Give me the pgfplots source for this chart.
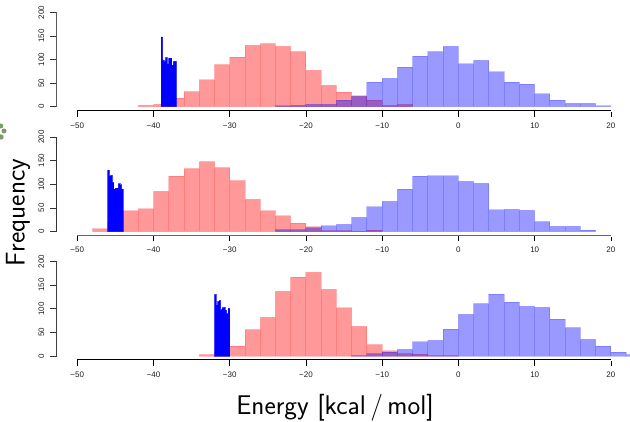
\documentclass[border=0pt]{standalone}
\usepackage{pgfplots}
\pgfplotsset{compat=1.18}
\usepackage{fontspec}
\setmainfont{Liberation Sans}
\definecolor{ticktxt}{gray}{0.12}
\definecolor{blob}{RGB}{125,155,105}
\pgfplotsset{
  panel/.style={
    anchor=south west,
    scale only axis,
    width=573.3pt,
    height=98pt,
    xmin=-52.70, xmax=22.5,
    ymax=200,
    clip=false,
    axis line style={draw=none},
    xtick={-50,-40,-30,-20,-10,0,10,20},
    xticklabels={−50,−40,−30,−20,−10,0,10,20},
    ytick={0,50,100,150,200},
    yticklabels={0,50,100,150,200},
    xtick pos=bottom, ytick pos=left,
    tick align=outside,
    major tick length=6.5pt,
    x tick style={black,line width=0.8pt,shorten >=1.8pt},
    y tick style={black!80,line width=0.8pt},
    tick label style={font=\fontsize{8}{9}\selectfont,text=ticktxt},
    yticklabel style={rotate=90,anchor=south,yshift=2.5pt},
    xticklabel style={anchor=base,yshift=-11.5pt},
    ylabel={}, xlabel={},
  },
  redh/.style={ybar interval,fill=red,fill opacity=0.4,draw=red,draw opacity=0.18,line width=1pt},
  blueh/.style={ybar interval,fill=blue,fill opacity=0.4,draw=blue,draw opacity=0.18,line width=1pt},
  solidh/.style={ybar interval,fill=blue,draw=blue,draw opacity=0.6,line width=0.8pt},
}
\begin{document}
\begin{tikzpicture}[x=1pt,y=1pt]
\path[use as bounding box] (0,0) rectangle (630,422);
% stray green decoration at the left edge
\fill[blob] (0.8,296) circle (2.5);
\fill[blob] (4,291) circle (2.5);
\fill[blob] (1,285) circle (2.7);
% panel 1
\begin{axis}[panel,at={(56.7pt,311.6pt)},ymin=-7.83]
\addplot[redh] table {
-42 3
-40 5
-38 18
-36 32
-34 57
-32 89
-30 105
-28 130
-26 134
-24 128
-22 117
-20 77
-18 45
-16 31
-14 23
-12 14
-10 3
-8 5
-6 0
};
\addplot[blueh] table {
-24 2
-22 3
-20 5
-18 5
-16 14
-14 22
-12 52
-10 60
-8 84
-6 107
-4 117
-2 128
0 91
2 98
4 74
6 52
8 48
10 27
12 14
14 7
16 7
18 2
20 0
};
\addplot[solidh] table {
-39.0 148
-38.8 98
-38.6 96
-38.4 104
-38.2 91
-38.0 103
-37.8 103
-37.6 88
-37.4 96
-37.2 96
-37.0 0
};
\draw[black,line width=0.9pt] (axis cs:-50,-7.83)--(axis cs:20,-7.83);
\draw[black!65,line width=0.9pt] (axis cs:-52.7,0)--(axis cs:-52.7,200);
\end{axis}
% panel 2
\begin{axis}[panel,at={(56.7pt,187pt)},ymin=-7.2]
\addplot[redh] table {
-48 6
-46 20
-44 44
-42 48
-40 85
-38 117
-36 133
-34 148
-32 135
-30 108
-28 68
-26 44
-24 33
-22 18
-20 10
-18 2
-16 2
-14 1
-12 3
-10 0
};
\addplot[blueh] table {
-24 4
-22 4
-20 8
-18 12
-16 15
-14 30
-12 52
-10 64
-8 90
-6 117
-4 118
-2 118
0 106
2 102
4 46
6 47
8 45
10 21
12 11
14 11
16 3
18 0
};
\addplot[solidh] table {
-46.0 130
-45.8 118
-45.6 119
-45.4 104
-45.2 90
-45.0 92
-44.8 92
-44.6 101
-44.4 99
-44.2 90
-44.0 0
};
\draw[black!60,line width=0.9pt] (axis cs:-50,-7.2)--(axis cs:20,-7.2);
\draw[black!80,line width=0.9pt] (axis cs:-52.7,0)--(axis cs:-52.7,200);
\end{axis}
% panel 3
\begin{axis}[panel,at={(56.7pt,62.4pt)},ymin=-7.6]
\addplot[redh] table {
-34 3
-32 10
-30 21
-28 56
-26 82
-24 137
-22 167
-20 177
-18 141
-16 102
-14 63
-12 24
-10 11
-8 5
-6 4
-4 1
-2 1
0 0
};
\addplot[blueh] table {
-14 1
-12 5
-10 8
-8 14
-6 30
-4 33
-2 57
0 88
2 111
4 131
6 114
8 105
10 103
12 78
14 60
16 35
18 21
20 8
22 3
24 0
};
\addplot[solidh] table {
-32.0 130
-31.8 108
-31.6 115
-31.4 118
-31.2 98
-31.0 102
-30.8 103
-30.6 97
-30.4 90
-30.2 101
-30.0 0
};
\draw[black,line width=0.9pt] (axis cs:-50,-7.6)--(axis cs:20,-7.6);
\draw[black!75,line width=0.9pt] (axis cs:-52.7,0)--(axis cs:-52.7,200);
\end{axis}
\node[rotate=90,font=\sffamily\fontsize{27}{30}\selectfont] at (18,209.5) {Frequency};
\node[font=\sffamily\fontsize{27}{30}\selectfont] at (335,14) {Energy [kcal\,/\,mol]};
\end{tikzpicture}
\end{document}
